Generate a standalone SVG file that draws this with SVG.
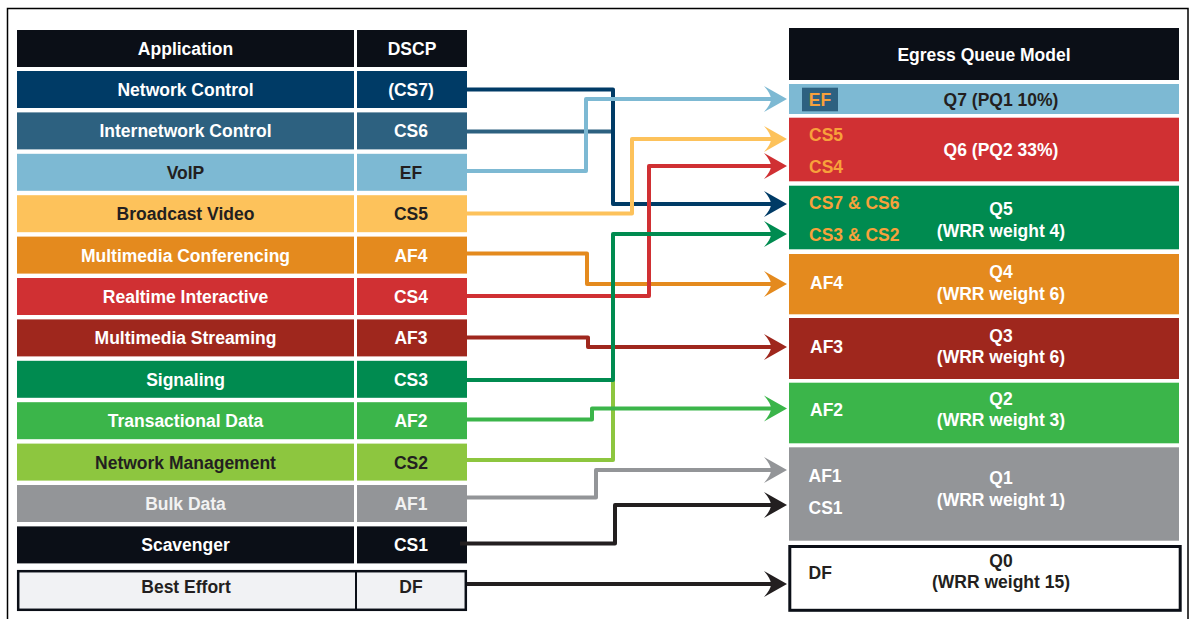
<svg xmlns="http://www.w3.org/2000/svg" width="1193" height="619" viewBox="0 0 1193 619">
<style>
text{font-family:"Liberation Sans",Arial,Helvetica,sans-serif;font-weight:bold;font-size:17.5px}
.c{text-anchor:middle}
.w{fill:#ffffff}
.d{fill:#231f20}
.o{fill:#f8a13b}
.ln{fill:none;stroke-width:4;stroke-linejoin:round}
</style>
<defs>
<marker id="a-navy" markerUnits="userSpaceOnUse" markerWidth="26" markerHeight="28" refX="9" refY="14" orient="auto" overflow="visible"><path d="M24,14 L1,1 Q8,9 8,14 Q8,19 1,27 Z" fill="#003b66"/></marker>
<marker id="a-lblue" markerUnits="userSpaceOnUse" markerWidth="26" markerHeight="28" refX="9" refY="14" orient="auto" overflow="visible"><path d="M24,14 L1,1 Q8,9 8,14 Q8,19 1,27 Z" fill="#7db9d3"/></marker>
<marker id="a-yellow" markerUnits="userSpaceOnUse" markerWidth="26" markerHeight="28" refX="9" refY="14" orient="auto" overflow="visible"><path d="M24,14 L1,1 Q8,9 8,14 Q8,19 1,27 Z" fill="#fdc25b"/></marker>
<marker id="a-orange" markerUnits="userSpaceOnUse" markerWidth="26" markerHeight="28" refX="9" refY="14" orient="auto" overflow="visible"><path d="M24,14 L1,1 Q8,9 8,14 Q8,19 1,27 Z" fill="#e48a1e"/></marker>
<marker id="a-red" markerUnits="userSpaceOnUse" markerWidth="26" markerHeight="28" refX="9" refY="14" orient="auto" overflow="visible"><path d="M24,14 L1,1 Q8,9 8,14 Q8,19 1,27 Z" fill="#d03033"/></marker>
<marker id="a-dred" markerUnits="userSpaceOnUse" markerWidth="26" markerHeight="28" refX="9" refY="14" orient="auto" overflow="visible"><path d="M24,14 L1,1 Q8,9 8,14 Q8,19 1,27 Z" fill="#9f271d"/></marker>
<marker id="a-green" markerUnits="userSpaceOnUse" markerWidth="26" markerHeight="28" refX="9" refY="14" orient="auto" overflow="visible"><path d="M24,14 L1,1 Q8,9 8,14 Q8,19 1,27 Z" fill="#008b50"/></marker>
<marker id="a-mgreen" markerUnits="userSpaceOnUse" markerWidth="26" markerHeight="28" refX="9" refY="14" orient="auto" overflow="visible"><path d="M24,14 L1,1 Q8,9 8,14 Q8,19 1,27 Z" fill="#3bb54a"/></marker>
<marker id="a-gray" markerUnits="userSpaceOnUse" markerWidth="26" markerHeight="28" refX="9" refY="14" orient="auto" overflow="visible"><path d="M24,14 L1,1 Q8,9 8,14 Q8,19 1,27 Z" fill="#939598"/></marker>
<marker id="a-black" markerUnits="userSpaceOnUse" markerWidth="26" markerHeight="28" refX="9" refY="14" orient="auto" overflow="visible"><path d="M24,14 L1,1 Q8,9 8,14 Q8,19 1,27 Z" fill="#231f20"/></marker>
</defs>
<rect x="0" y="0" width="1193" height="619" fill="#ffffff"/>
<rect x="7.5" y="8.5" width="1180.5" height="620" fill="none" stroke="#000000" stroke-width="1.5"/>

<g id="app-header">
<rect x="17" y="30" width="337" height="37" fill="#0b0f17"/>
<rect x="357" y="30" width="110" height="37" fill="#0b0f17"/>
<text class="c w" x="185.5" y="54.5">Application</text>
<text class="c w" x="412" y="54.5">DSCP</text>
</g>
<g id="row-network-control">
<rect x="17" y="71" width="337" height="37" fill="#003b66"/>
<rect x="357" y="71" width="110" height="37" fill="#003b66"/>
<text class="c w" x="185.5" y="96">Network Control</text>
<text class="c w" x="411" y="96">(CS7)</text>
</g>
<g id="row-internetwork-control">
<rect x="17" y="112.4" width="337" height="37" fill="#2d6180"/>
<rect x="357" y="112.4" width="110" height="37" fill="#2d6180"/>
<text class="c w" x="185.5" y="137.4">Internetwork Control</text>
<text class="c w" x="411" y="137.4">CS6</text>
</g>
<g id="row-voip">
<rect x="17" y="153.8" width="337" height="37" fill="#7db9d3"/>
<rect x="357" y="153.8" width="110" height="37" fill="#7db9d3"/>
<text class="c d" x="185.5" y="178.8">VoIP</text>
<text class="c d" x="411" y="178.8">EF</text>
</g>
<g id="row-broadcast-video">
<rect x="17" y="195.2" width="337" height="37" fill="#fdc25b"/>
<rect x="357" y="195.2" width="110" height="37" fill="#fdc25b"/>
<text class="c d" x="185.5" y="220.2">Broadcast Video</text>
<text class="c d" x="411" y="220.2">CS5</text>
</g>
<g id="row-multimedia-conferencing">
<rect x="17" y="236.6" width="337" height="37" fill="#e48a1e"/>
<rect x="357" y="236.6" width="110" height="37" fill="#e48a1e"/>
<text class="c w" x="185.5" y="261.6">Multimedia Conferencing</text>
<text class="c w" x="411" y="261.6">AF4</text>
</g>
<g id="row-realtime-interactive">
<rect x="17" y="278" width="337" height="37" fill="#d03033"/>
<rect x="357" y="278" width="110" height="37" fill="#d03033"/>
<text class="c w" x="185.5" y="303">Realtime Interactive</text>
<text class="c w" x="411" y="303">CS4</text>
</g>
<g id="row-multimedia-streaming">
<rect x="17" y="319.4" width="337" height="37" fill="#9f271d"/>
<rect x="357" y="319.4" width="110" height="37" fill="#9f271d"/>
<text class="c w" x="185.5" y="344.4">Multimedia Streaming</text>
<text class="c w" x="411" y="344.4">AF3</text>
</g>
<g id="row-signaling">
<rect x="17" y="360.8" width="337" height="37" fill="#008b50"/>
<rect x="357" y="360.8" width="110" height="37" fill="#008b50"/>
<text class="c w" x="185.5" y="385.8">Signaling</text>
<text class="c w" x="411" y="385.8">CS3</text>
</g>
<g id="row-transactional-data">
<rect x="17" y="402.2" width="337" height="37" fill="#3bb54a"/>
<rect x="357" y="402.2" width="110" height="37" fill="#3bb54a"/>
<text class="c w" x="185.5" y="427.2">Transactional Data</text>
<text class="c w" x="411" y="427.2">AF2</text>
</g>
<g id="row-network-management">
<rect x="17" y="443.6" width="337" height="37" fill="#8dc63f"/>
<rect x="357" y="443.6" width="110" height="37" fill="#8dc63f"/>
<text class="c d" x="185.5" y="468.6">Network Management</text>
<text class="c d" x="411" y="468.6">CS2</text>
</g>
<g id="row-bulk-data">
<rect x="17" y="485" width="337" height="37" fill="#939598"/>
<rect x="357" y="485" width="110" height="37" fill="#939598"/>
<text class="c" fill="#f2f2f2" x="185.5" y="510">Bulk Data</text>
<text class="c" fill="#f2f2f2" x="411" y="510">AF1</text>
</g>
<g id="row-scavenger">
<rect x="17" y="526.4" width="337" height="37" fill="#0b0f17"/>
<rect x="357" y="526.4" width="110" height="37" fill="#0b0f17"/>
<text class="c w" x="185.5" y="551.4">Scavenger</text>
<text class="c w" x="411" y="551.4">CS1</text>
</g>
<g id="row-best-effort">
<rect x="18.2" y="571.2" width="447.6" height="38.6" fill="#f1f2f4" stroke="#0b0f17" stroke-width="2.5"/>
<line x1="356" y1="571" x2="356" y2="610" stroke="#0b0f17" stroke-width="2"/>
<text class="c d" x="186" y="593">Best Effort</text>
<text class="c d" x="411" y="593">DF</text>
</g>

<g id="queue-header">
<rect x="789" y="28" width="390" height="52" fill="#0b0f17"/>
<text class="c w" x="984" y="60.5">Egress Queue Model</text>
</g>
<g id="queue-q7">
<rect x="789" y="84" width="390" height="30" fill="#7db9d3"/>
<rect x="802" y="87.7" width="36" height="23.6" fill="#2d6180"/>
<text class="c o" x="820" y="106">EF</text>
<text class="c d" x="1001" y="106">Q7 (PQ1 10%)</text>
</g>
<g id="queue-q6">
<rect x="789" y="117.7" width="390" height="63.6" fill="#d03033"/>
<text class="o" x="809" y="140.5">CS5</text>
<text class="o" x="809" y="172.5">CS4</text>
<text class="c w" x="1001" y="156">Q6 (PQ2 33%)</text>
</g>
<g id="queue-q5">
<rect x="789" y="185.7" width="390" height="63.6" fill="#008b50"/>
<text class="o" x="809" y="209">CS7 &amp; CS6</text>
<text class="o" x="809" y="240.5">CS3 &amp; CS2</text>
<text class="c w" x="1001" y="215">Q5</text>
<text class="c w" x="1001" y="236.5">(WRR weight 4)</text>
</g>
<g id="queue-q4">
<rect x="789" y="254" width="390" height="60.3" fill="#e48a1e"/>
<text class="w" x="810" y="289">AF4</text>
<text class="c w" x="1001" y="278.3">Q4</text>
<text class="c w" x="1001" y="300">(WRR weight 6)</text>
</g>
<g id="queue-q3">
<rect x="789" y="318" width="390" height="61" fill="#9f271d"/>
<text class="w" x="810" y="353.3">AF3</text>
<text class="c w" x="1001" y="341.7">Q3</text>
<text class="c w" x="1001" y="363.3">(WRR weight 6)</text>
</g>
<g id="queue-q2">
<rect x="789" y="382.7" width="390" height="60.6" fill="#3bb54a"/>
<text class="w" x="810" y="416">AF2</text>
<text class="c w" x="1001" y="405">Q2</text>
<text class="c w" x="1001" y="425.7">(WRR weight 3)</text>
</g>
<g id="queue-q1">
<rect x="789" y="447.3" width="390" height="93.4" fill="#939598"/>
<text class="w" x="808.5" y="481.7">AF1</text>
<text class="w" x="808.5" y="514.3">CS1</text>
<text class="c w" x="1001" y="484">Q1</text>
<text class="c w" x="1001" y="506">(WRR weight 1)</text>
</g>
<g id="queue-q0">
<rect x="789.8" y="546.5" width="390.4" height="63.8" fill="#ffffff" stroke="#0b0f17" stroke-width="3"/>
<text class="d" x="808.5" y="579.3">DF</text>
<text class="c d" x="1001" y="566.7">Q0</text>
<text class="c d" x="1001" y="587.7">(WRR weight 15)</text>
</g>

<g id="connectors">
<path class="ln" stroke="#2d6180" d="M467,131.5 H613"/>
<path class="ln" stroke="#003b66" d="M467,89.5 H613 V204 H772" marker-end="url(#a-navy)"/>
<path class="ln" stroke="#7db9d3" d="M467,171 H586 V99 H772" marker-end="url(#a-lblue)"/>
<path class="ln" stroke="#fdc25b" d="M467,213.5 H632 V139 H772" marker-end="url(#a-yellow)"/>
<path class="ln" stroke="#e48a1e" d="M467,253.5 H587 V284 H772" marker-end="url(#a-orange)"/>
<path class="ln" stroke="#d03033" d="M467,296 H649 V166 H772" marker-end="url(#a-red)"/>
<path class="ln" stroke="#9f271d" d="M467,337.5 H588 V347 H772" marker-end="url(#a-dred)"/>
<path class="ln" stroke="#8dc63f" d="M467,460 H613 V380"/>
<path class="ln" stroke="#008b50" d="M467,380 H613 V234 H772" marker-end="url(#a-green)"/>
<path class="ln" stroke="#3bb54a" d="M467,419.5 H592 V408.5 H772" marker-end="url(#a-mgreen)"/>
<path class="ln" stroke="#939598" d="M467,497.5 H596 V470 H772" marker-end="url(#a-gray)"/>
<path class="ln" stroke="#231f20" d="M460,543.5 H615 V505 H772" marker-end="url(#a-black)"/>
<path class="ln" stroke="#231f20" d="M467,584 H772" marker-end="url(#a-black)"/>
</g>
</svg>
